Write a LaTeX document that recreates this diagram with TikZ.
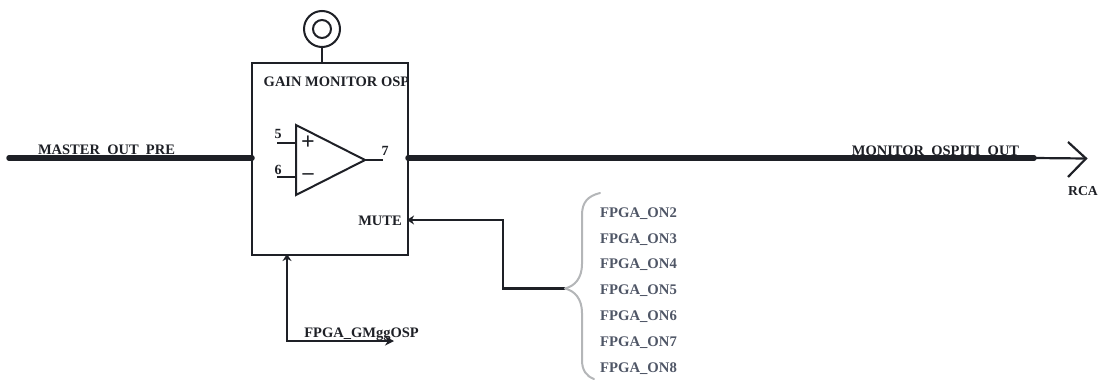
\documentclass[tikz,border=0pt]{standalone}
\usepackage{fontspec}
\setmainfont{Liberation Serif}
\usetikzlibrary{arrows.meta,calc}
\definecolor{inkc}{HTML}{1E2026}
\definecolor{slatec}{HTML}{4F5666}
\definecolor{bracec}{HTML}{B4B6B8}
\tikzset{
  thinline/.style={draw=inkc,line width=2pt},
  busline/.style={draw=inkc,line width=5.5pt},
  signal/.style={draw=inkc,line width=2.7pt},
  lbl/.style={inner sep=0pt,text=inkc,font=\fontsize{14.5}{16}\selectfont\bfseries},
  pinlbl/.style={inner sep=0pt,text=inkc,font=\fontsize{14}{16}\selectfont\bfseries},
  fpgalbl/.style={inner sep=0pt,text=slatec,font=\fontsize{14.7}{16}\selectfont\bfseries},
  tip/.style={-{Stealth[length=7pt,width=9pt]}},
}
\begin{document}
\begin{tikzpicture}[x=1pt,y=-1pt]
\useasboundingbox (0,0) rectangle (1113,382);
% main box
\node[thinline,draw,minimum width=156pt,minimum height=192pt,inner sep=0pt,outer sep=0pt] (box) at (330,159) {};
\node[thinline,draw,circle,minimum size=36pt,inner sep=0pt,outer sep=0pt] (jackout) at (322,29) {};
\node[thinline,draw,circle,minimum size=18pt,inner sep=0pt,outer sep=0pt] (jackin) at (322,29) {};
\coordinate (boxtop) at (322,63);
\draw[thinline] (jackout.south) -- (boxtop);
\node[lbl] (title) at (336.5,82) {GAIN MONITOR OSP};
% amplifier
\coordinate (ampa) at (296,125);
\coordinate (ampb) at (296,195);
\coordinate (ampc) at (365,160);
\draw[thinline,line join=miter] (ampa) -- (ampc) -- (ampb) -- cycle;
\coordinate (ampplus) at (296,143);
\coordinate (ampminus) at (296,177);
\coordinate (pinfive) at (277,143);
\coordinate (pinsix) at (277,177);
\coordinate (pinseven) at (383,160);
\draw[thinline] (pinfive) -- (ampplus);
\draw[thinline] (pinsix) -- (ampminus);
\draw[thinline] (ampc) -- (pinseven);
\node[inner sep=0pt,text=inkc,font=\fontsize{24}{26}\selectfont\bfseries] (plus) at (308,143) {+};
\node[inner sep=0pt,text=inkc,font=\fontsize{22}{24}\selectfont\bfseries] (minus) at (308,177) {\textendash};
\node[pinlbl] (five) at (278,134) {5};
\node[pinlbl] (six) at (278,170) {6};
\node[pinlbl] (seven) at (385,151) {7};
% buses
\coordinate (leftend) at (9,158);
\coordinate (leftin) at (252,158);
\coordinate (rightout) at (408,158);
\coordinate (busend) at (1034,158);
\coordinate (tipend) at (1086,158.5);
\draw[busline,line cap=round] (leftend) -- (leftin);
\draw[busline,line cap=round] (rightout) -- (busend);
\draw[thinline,line width=2.2pt] (busend) -- (tipend);
\coordinate (rcatop) at (1068,142);
\coordinate (rcabot) at (1068,177);
\draw[thinline,line width=2.2pt,line join=miter] (rcatop) -- (tipend) -- (rcabot);
\node[lbl] (master) at (106.5,151) {MASTER\_OUT\_PRE};
\node[lbl] (monitor) at (935.5,151.5) {MONITOR\_OSPITI\_OUT};
\node[lbl,font=\fontsize{13.7}{15}\selectfont\bfseries] (rca) at (1083,191) {RCA};
% mute
\node[lbl] (mute) at (380,221) {MUTE};
\coordinate (mutein) at (407,220);
\coordinate (muteel) at (503,220);
\coordinate (bracetip) at (565,288.5);
\coordinate (muteeb) at (503,288.5);
\draw[signal,tip,line join=miter] (bracetip) -- (muteeb) -- (muteel) -- (mutein);
% gain control
\coordinate (gmin) at (287,254);
\coordinate (gmcorner) at (287,341);
\coordinate (gmend) at (394,341);
\draw[signal,{Stealth[length=7pt,width=9pt]}-{Stealth[length=9pt,width=9pt]},line join=miter] (gmin) -- (gmcorner) -- (gmend);
\node[lbl] (gm) at (361.5,334.5) {FPGA\_GMggOSP};
% brace
\draw[draw=bracec,line width=2pt,line cap=round] (bracetip) .. controls (575,286) and (582,278) .. (582,264)
  -- (582,215) .. controls (582,202) and (588,196) .. (600,193);
\draw[draw=bracec,line width=2pt,line cap=round] (bracetip) .. controls (575,291) and (582,299) .. (582,313)
  -- (582,360) .. controls (582,370) and (586,376) .. (594,379);
\node[fpgalbl] (onb) at (638.5,214) {FPGA\_ON2};
\node[fpgalbl] (onc) at (638.5,240) {FPGA\_ON3};
\node[fpgalbl] (ond) at (638.5,265) {FPGA\_ON4};
\node[fpgalbl] (one) at (638.5,291) {FPGA\_ON5};
\node[fpgalbl] (onf) at (638.5,317) {FPGA\_ON6};
\node[fpgalbl] (ong) at (638.5,343) {FPGA\_ON7};
\node[fpgalbl] (onh) at (638.5,369) {FPGA\_ON8};
\end{tikzpicture}
\end{document}
